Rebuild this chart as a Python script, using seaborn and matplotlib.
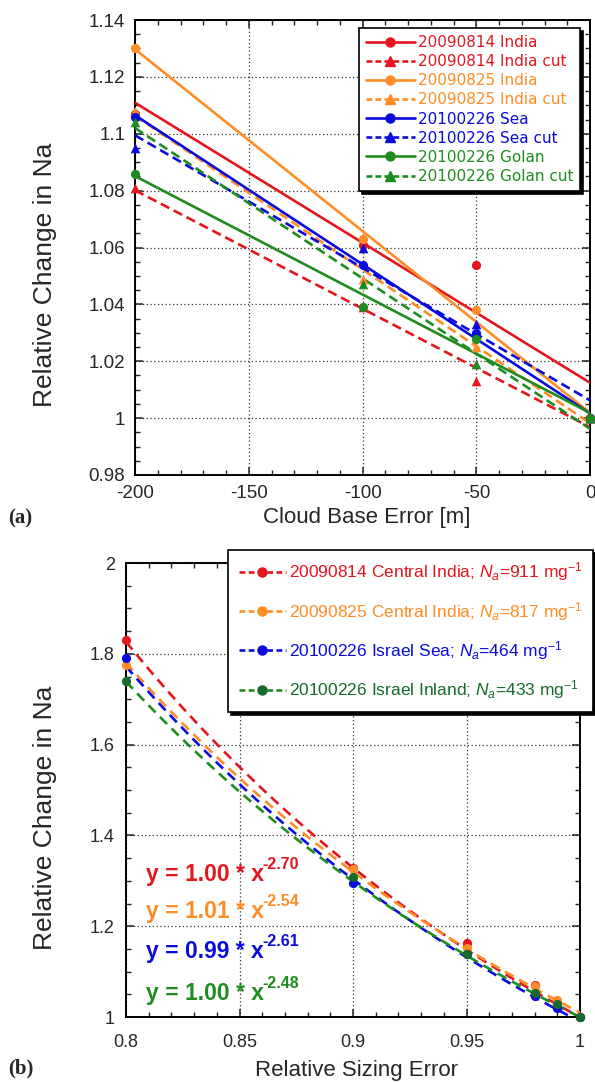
import numpy as np
import pandas as pd
import matplotlib
matplotlib.use("Agg")
import matplotlib.pyplot as plt
from matplotlib.lines import Line2D
from matplotlib.ticker import MultipleLocator
import matplotlib.transforms as mtransforms
import seaborn as sns

# ---------------- data ----------------
# Panel (a): cloud base error
cb_error = [-200, -100, -50, 0]
india0814 = [1.107, 1.061, 1.054, 1.000]
india0814_cut = [1.081, 1.039, 1.013, 1.000]
india0825 = [1.130, 1.063, 1.038, 1.000]
india0825_cut = [1.108, 1.049, 1.025, 1.000]
sea = [1.106, 1.054, 1.030, 1.000]
sea_cut = [1.095, 1.060, 1.033, 1.000]
golan = [1.086, 1.039, 1.028, 1.000]
golan_cut = [1.104, 1.047, 1.019, 1.000]
labels_a = ["20090814 India", "20090814 India cut", "20090825 India", "20090825 India cut",
            "20100226 Sea", "20100226 Sea cut", "20100226 Golan", "20100226 Golan cut"]

# Panel (b): relative sizing error
size_error = [0.8, 0.9, 0.95, 0.98, 0.99, 1.0]
b_india0814 = [1.831, 1.329, 1.163, 1.070, 1.034, 1.000]
b_india0825 = [1.776, 1.327, 1.153, 1.068, 1.037, 1.000]
b_sea = [1.791, 1.296, 1.140, 1.046, 1.021, 1.000]
b_inland = [1.740, 1.308, 1.140, 1.054, 1.028, 1.000]
fit_a = [1.00, 1.01, 0.99, 1.00]
fit_b = [-2.70, -2.54, -2.61, -2.48]
fit_a_txt = ["1.00", "1.01", "0.99", "1.00"]
fit_b_txt = ["-2.70", "-2.54", "-2.61", "-2.48"]
labels_b = ["20090814 Central India; $N_a$=911 mg$^{-1}$",
            "20090825 Central India; $N_a$=817 mg$^{-1}$",
            "20100226 Israel Sea; $N_a$=464 mg$^{-1}$",
            "20100226 Israel Inland; $N_a$=433 mg$^{-1}$"]

# ---------------- style ----------------
RED = "#e3161e"
ORANGE = "#ff8c26"
BLUE = "#0a0adc"
GREEN = "#1e8c1e"
DKGREEN = "#166a2c"

sns.set_style("ticks")
plt.rcParams["font.family"] = ["Liberation Sans", "DejaVu Sans"]
plt.rcParams["mathtext.fontset"] = "custom"
plt.rcParams["mathtext.rm"] = "Liberation Sans"
plt.rcParams["mathtext.it"] = "Liberation Sans:italic"
plt.rcParams["mathtext.bf"] = "Liberation Sans:bold"

fig = plt.figure(figsize=(5.95, 10.82), dpi=100)
ax1 = fig.add_axes([0.227, 0.561, 0.765, 0.4205])
ax2 = fig.add_axes([0.2118, 0.060, 0.763, 0.4196])


def style_axes(ax, xmaj, xmin, ymaj, ymin, fs, padx, pady):
    ax.xaxis.set_major_locator(MultipleLocator(xmaj))
    ax.xaxis.set_minor_locator(MultipleLocator(xmin))
    ax.yaxis.set_major_locator(MultipleLocator(ymaj))
    ax.yaxis.set_minor_locator(MultipleLocator(ymin))
    ax.tick_params(which="both", direction="in", top=True, right=True, color="#222222")
    ax.tick_params(which="major", length=6, width=1.1, labelsize=fs)
    ax.tick_params(which="minor", length=3.5, width=1.0)
    ax.tick_params(axis="x", which="major", pad=padx)
    ax.tick_params(axis="y", which="major", pad=pady)
    ax.grid(True, which="major", ls=(0, (1, 2)), color="#333333", lw=0.9)
    for s in ax.spines.values():
        s.set_linewidth(1.4)
        s.set_color("black")
        s.set_visible(True)


LW = 1.9
# ---------------- panel (a) ----------------
series_a = [india0814, india0814_cut, india0825, india0825_cut, sea, sea_cut, golan, golan_cut]
colors_a = [RED, RED, ORANGE, ORANGE, BLUE, BLUE, GREEN, GREEN]
handles_a = []
for i, (ys, col) in enumerate(zip(series_a, colors_a)):
    cut = (i % 2 == 1)
    df = pd.DataFrame({"x": cb_error, "y": ys})
    line_kws = dict(lw=LW, zorder=3)
    if cut:
        line_kws.update(ls="--", dashes=(3.6, 1.9))
    sns.regplot(data=df, x="x", y="y", ax=ax1, ci=None, color=col,
                marker="^" if cut else "o",
                scatter_kws=dict(s=44 if not cut else 48, zorder=4, linewidths=0,
                                 alpha=1, clip_on=False),
                line_kws=line_kws)
    h = Line2D([], [], color=col, lw=LW, ls="--" if cut else "-",
               marker="^" if cut else "o", markersize=6.5)
    if cut:
        h.set_dashes((2.2, 1.2))
    handles_a.append(h)

ax1.set_xlim(-200, 0)
ax1.set_ylim(0.98, 1.14)
style_axes(ax1, 50, 10, 0.02, 0.005, 13.5, 7, 7)
ax1.set_yticks(np.arange(0.98, 1.1401, 0.02))
ax1.set_yticklabels(["0.98", "1", "1.02", "1.04", "1.06", "1.08", "1.1", "1.12", "1.14"])
ax1.set_xticks(np.arange(-200, 1, 50))
ax1.set_xticklabels(["-200", "-150", "-100", "-50", "0"])
ax1.set_xlabel("Cloud Base Error [m]", fontsize=16)
ax1.set_ylabel("Relative Change in Na", fontsize=19)
ax1.xaxis.set_label_coords(0.51, -0.07)
ax1.yaxis.set_label_coords(-0.172, 0.44)

leg1 = ax1.legend(handles_a, labels_a, loc="upper right", bbox_to_anchor=(0.978, 0.982),
                  prop={"family": "DejaVu Sans", "size": 11},
                  handlelength=3.2, handletextpad=0.2, labelspacing=0.27,
                  borderpad=0.45, borderaxespad=0, frameon=True, fancybox=False,
                  shadow={"shade": 1.0, "alpha": 1.0}, edgecolor="black", framealpha=1)
leg1.get_frame().set_linewidth(1.2)
leg1.set_zorder(10)
for t, c in zip(leg1.get_texts(), colors_a):
    t.set_color(c)

# ---------------- panel (b) ----------------
series_b = [b_india0814, b_india0825, b_sea, b_inland]
colors_b = [RED, ORANGE, BLUE, GREEN]
dot_colors_b = [RED, ORANGE, BLUE, DKGREEN]
xfit = np.linspace(0.8, 1.0, 200)
handles_b = []
for ys, col, dcol, a, b in zip(series_b, colors_b, dot_colors_b, fit_a, fit_b):
    yfit = a * xfit ** b
    sns.lineplot(x=xfit, y=yfit, ax=ax2, color=col, lw=LW, zorder=3,
                 linestyle=(0, (3.8, 2.4)), sort=False)
    sns.scatterplot(x=size_error, y=ys, ax=ax2, color=dcol, s=44, zorder=4,
                    linewidth=0, clip_on=False)
    h = Line2D([], [], color=col, lw=LW, ls=(0, (2.2, 1.3)), marker="o",
               markersize=6.5, markerfacecolor=dcol, markeredgecolor=dcol)
    handles_b.append(h)

ax2.set_xlim(0.8, 1.0)
ax2.set_ylim(1.0, 2.0)
style_axes(ax2, 0.05, 0.01, 0.2, 0.05, 13, 12, 8)
ax2.set_xticks([0.8, 0.85, 0.9, 0.95, 1.0])
ax2.set_xticklabels(["0.8", "0.85", "0.9", "0.95", "1"])
ax2.set_yticks([1.0, 1.2, 1.4, 1.6, 1.8, 2.0])
ax2.set_yticklabels(["1", "1.2", "1.4", "1.6", "1.8", "2"])
ax2.set_xlabel("Relative Sizing Error", fontsize=16)
ax2.set_ylabel("Relative Change in Na", fontsize=19)
ax2.xaxis.set_label_coords(0.507, -0.095)
ax2.yaxis.set_label_coords(-0.152, 0.44)

leg2 = ax2.legend(handles_b, labels_b, loc="upper right", bbox_to_anchor=(1.029, 1.029),
                  fontsize=12.5, handlelength=2.7, handletextpad=0.2, labelspacing=0.95,
                  borderpad=0.6, borderaxespad=0, frameon=True, fancybox=False,
                  shadow={"shade": 1.0, "alpha": 1.0}, edgecolor="black", framealpha=1)
leg2.get_frame().set_linewidth(1.2)
leg2.set_zorder(10)
for t, c in zip(leg2.get_texts(), dot_colors_b):
    t.set_color(c)

# fit equations: base text plus a small bold superscript placed after it
eq_y = [1.300, 1.219, 1.131, 1.038]
base_texts = []
for atxt, col, yy in zip(fit_a_txt, colors_b, eq_y):
    t = ax2.text(0.809, yy, "y = " + atxt + " * x", color=col, fontsize=16.5,
                 fontweight="bold", va="baseline", ha="left", zorder=6)
    base_texts.append(t)
fig.canvas.draw()
renderer = fig.canvas.get_renderer()
for t, btxt, col in zip(base_texts, fit_b_txt, colors_b):
    bb = t.get_window_extent(renderer=renderer)
    off = mtransforms.offset_copy(t.get_transform(), fig=fig,
                                  x=bb.width / fig.dpi * 72 - 1.5,
                                  y=8.5, units="points")
    ax2.text(t.get_position()[0], t.get_position()[1], btxt, color=col, fontsize=11.5,
             fontweight="bold", va="baseline", ha="left", transform=off, zorder=6)

# panel tags
fig.text(8 / 595, 1 - 518 / 1082, "(a)", fontsize=15, fontweight="bold",
         family=["Liberation Serif", "DejaVu Serif"], va="center", ha="left")
fig.text(8 / 595, 1 - 1068 / 1082, "(b)", fontsize=15, fontweight="bold",
         family=["Liberation Serif", "DejaVu Serif"], va="center", ha="left")

fig.savefig("out.png", dpi=100)
